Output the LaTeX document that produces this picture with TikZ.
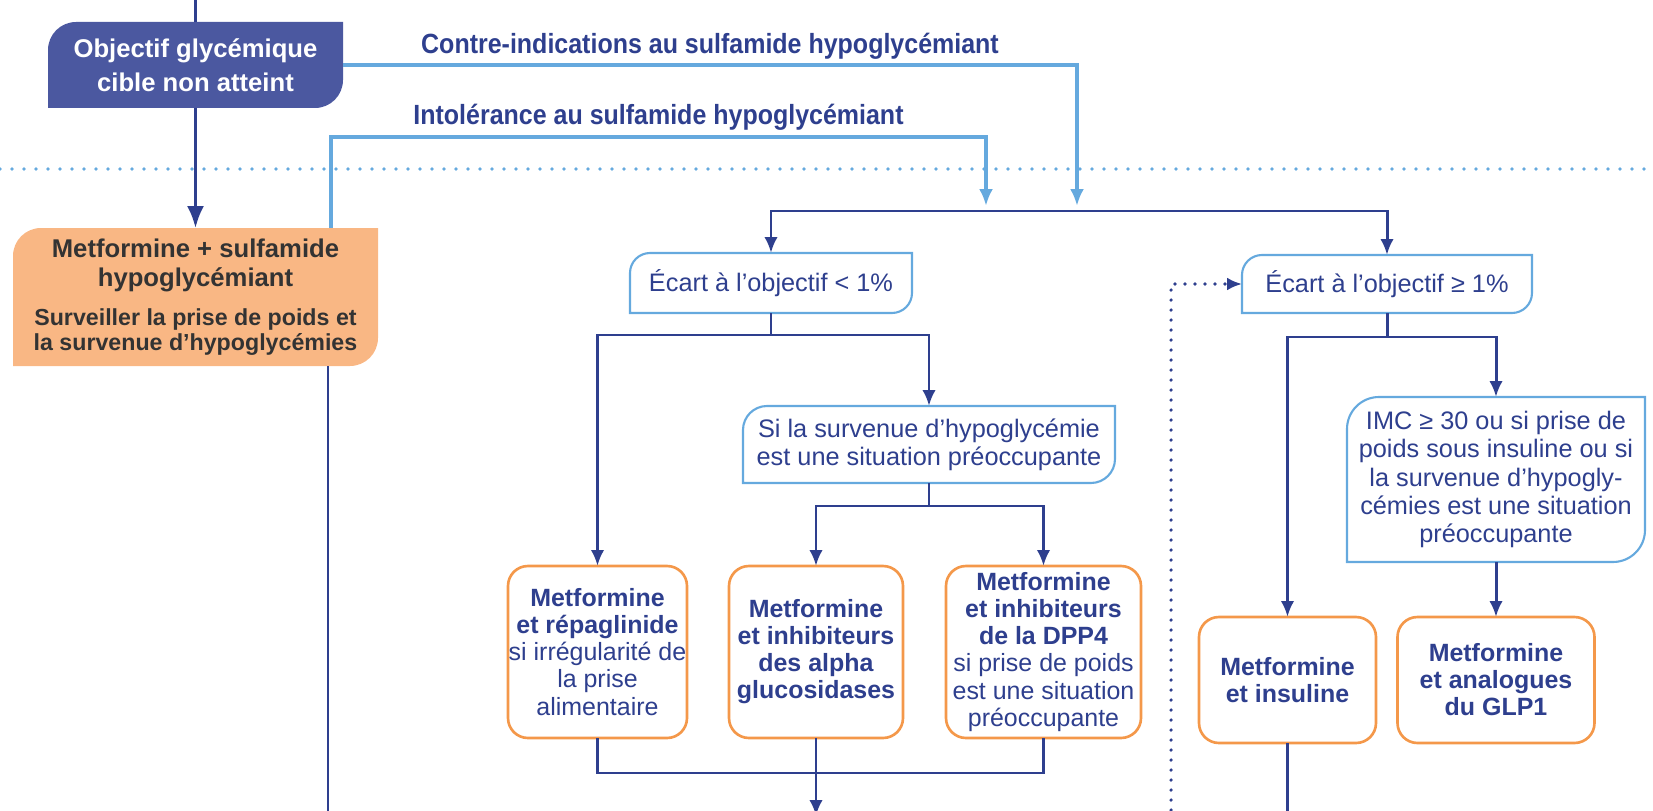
\documentclass[tikz,border=0pt]{standalone}
\usepackage{fontspec}
\setmainfont{Liberation Sans}
\newfontfamily\condfont[FakeStretch=0.9]{Liberation Sans}
\usepackage{tikz}
\usetikzlibrary{arrows.meta,positioning,backgrounds,calc}

\definecolor{navy}{HTML}{2E3F8E}
\definecolor{goalfill}{HTML}{4B58A0}
\definecolor{sky}{HTML}{65A9DE}
\definecolor{orangeline}{HTML}{F4984A}
\definecolor{orangefill}{HTML}{F9B784}
\definecolor{inkgray}{HTML}{333333}

% box outline with rounded top-left and bottom-right corners
\newcommand{\leafpath}[3]{%
  \path[#2] (#1.south west) -- ([yshift=-#3]#1.north west)
    arc[start angle=180,end angle=90,radius=#3] -- (#1.north east)
    -- ([yshift=#3]#1.south east)
    arc[start angle=0,end angle=-90,radius=#3] -- cycle;}

\begin{document}
\begin{tikzpicture}[
  line/.style={navy, line width=0.85pt},
  msg/.style={line, -{Latex[length=1.6mm,width=1.35mm]}},
  bigmsg/.style={line, -{Latex[length=2.2mm,width=1.7mm]}},
  skymsg/.style={sky, line width=1pt, -{Latex[length=1.7mm,width=1.4mm]}},
  dotmsg/.style={navy, line width=1pt, line cap=round, dash pattern=on 0pt off 1mm,
                 -{Latex[length=1.5mm,width=1.3mm]}},
  sepline/.style={sky, line width=1pt, line cap=round, dash pattern=on 0pt off 1.2mm},
  plain/.style={align=center, inner sep=0pt, outer sep=0pt},
  goal/.style={plain, text=white, font=\bfseries\fontsize{7.3}{9.7}\selectfont},
  start/.style={plain, text=inkgray, font=\bfseries\fontsize{7.3}{8.3}\selectfont},
  cond/.style={plain, text=navy, font=\fontsize{7.2}{8}\selectfont},
  choice/.style={plain, draw=orangeline, line width=0.75pt, rounded corners=2mm,
                 fill=white, text=navy, font=\fontsize{7.1}{7.7}\selectfont},
  branch/.style={text=navy, anchor=base, yshift=1.2mm,
                 font=\condfont\bfseries\fontsize{7.9}{9}\selectfont}
]
\useasboundingbox (0,0) rectangle (16.53,-8.11);

% separator
\draw[sepline] (0,-1.69) -- (16.53,-1.69);

% first step
\node[goal, minimum width=2.95cm, minimum height=0.86cm] (obj) at (1.955,-0.65)
  {Objectif glycémique\\cible non atteint};
\node[start, minimum width=3.65cm, minimum height=1.38cm] (met) at (1.955,-2.97)
  {Metformine + sulfamide\\hypoglycémiant\\[2.8pt]
   \fontsize{6.6}{7.1}\selectfont Surveiller la prise de poids et\\[-1.2pt]
   \fontsize{6.6}{7.1}\selectfont la survenue d’hypoglycémies};

% conditions
\node[cond, minimum width=2.82cm, minimum height=0.60cm] (lt) at (7.71,-2.83)
  {Écart à l’objectif < 1\%};
\node[cond, minimum width=2.90cm, minimum height=0.58cm] (gt) at (13.87,-2.84)
  {Écart à l’objectif ≥ 1\%};
\node[cond, minimum width=3.72cm, minimum height=0.77cm] (si) at (9.29,-4.445)
  {Si la survenue d’hypoglycémie\\est une situation préoccupante};
\node[cond, minimum width=2.98cm, minimum height=1.65cm] (imc) at (14.96,-4.795)
  {IMC ≥ 30 ou si prise de\\poids sous insuline ou si\\la survenue d’hypogly-\\cémies est une situation\\préoccupante};

% treatments
\node[choice, minimum width=1.79cm, minimum height=1.72cm] (rep) at (5.975,-6.52)
  {\textbf{Metformine}\\\textbf{et répaglinide}\\si irrégularité de\\la prise\\alimentaire};
\node[choice, minimum width=1.74cm, minimum height=1.72cm] (alpha) at (8.16,-6.52)
  {\textbf{Metformine}\\\textbf{et inhibiteurs}\\\textbf{des alpha}\\\textbf{glucosidases}};
\node[choice, minimum width=1.95cm, minimum height=1.72cm] (dpp) at (10.435,-6.52)
  {\textbf{Metformine}\\\textbf{et inhibiteurs}\\\textbf{de la DPP4}\\si prise de poids\\est une situation\\préoccupante};
\node[choice, minimum width=1.77cm, minimum height=1.26cm] (ins) at (12.875,-6.80)
  {\textbf{Metformine}\\\textbf{et insuline}};
\node[choice, minimum width=1.97cm, minimum height=1.26cm] (glp) at (14.96,-6.80)
  {\textbf{Metformine}\\\textbf{et analogues}\\\textbf{du GLP1}};

% box backgrounds
\begin{scope}[on background layer]
  \leafpath{obj}{fill=goalfill}{2.8mm}
  \leafpath{met}{fill=orangefill}{2.8mm}
  \leafpath{lt}{draw=sky, line width=0.6pt, fill=white}{2mm}
  \leafpath{gt}{draw=sky, line width=0.6pt, fill=white}{2mm}
  \leafpath{si}{draw=sky, line width=0.6pt, fill=white}{2.4mm}
  \leafpath{imc}{draw=sky, line width=0.6pt, fill=white}{3.2mm}
\end{scope}

% helper points
\coordinate (topin) at (1.955,0.1);
\coordinate (ciend) at (10.77,-2.06);
\coordinate (inbend) at (3.31,-1.37);
\coordinate (inend) at (9.86,-2.06);
\coordinate (split) at (10.3,-2.11);
\coordinate (metout) at (3.28,-8.3);
\coordinate (dotcorner) at (11.71,-2.84);
\coordinate (leftout) at (alpha.south |- 0,-8.16);
\coordinate (rightout) at (ins.south |- 0,-8.3);

% main flow
\draw[line] (topin) -- (obj.north);
\draw[bigmsg] (obj) -- (met);
\draw[line] (met.south -| metout) -- (metout);

% alternative routes
\draw[skymsg] (obj.east) -| node[branch, pos=0.25]
  {Contre-indications au sulfamide hypoglycémiant} (ciend);
\draw[skymsg] (met.north -| inbend) -- (inbend) -| node[branch, pos=0.25]
  {Intolérance au sulfamide hypoglycémiant} (inend);
\draw[msg] (split) -| (lt.north);
\draw[msg] (split) -| (gt.north);

% below 1%
\draw[msg] (lt.south) -- ++(0,-0.22) -| (rep.north);
\draw[msg] (lt.south) -- ++(0,-0.22) -| (si.north);
\draw[msg] (si.south) -- ++(0,-0.23) -| (alpha.north);
\draw[msg] (si.south) -- ++(0,-0.23) -| (dpp.north);
\draw[line] (rep.south) -- ++(0,-0.35) -| (dpp.south);
\draw[msg] (alpha.south) -- (leftout);

% 1% and more
\draw[msg] (gt.south) -- ++(0,-0.24) -| (ins.north);
\draw[msg] (gt.south) -- ++(0,-0.24) -| (imc.north);
\draw[msg] (imc.south) -- (glp.north);
\draw[line] (ins.south) -- (rightout);
\draw[dotmsg] (dotcorner |- 0,-8.3) -- (dotcorner) -- (gt.west);
\end{tikzpicture}
\end{document}
